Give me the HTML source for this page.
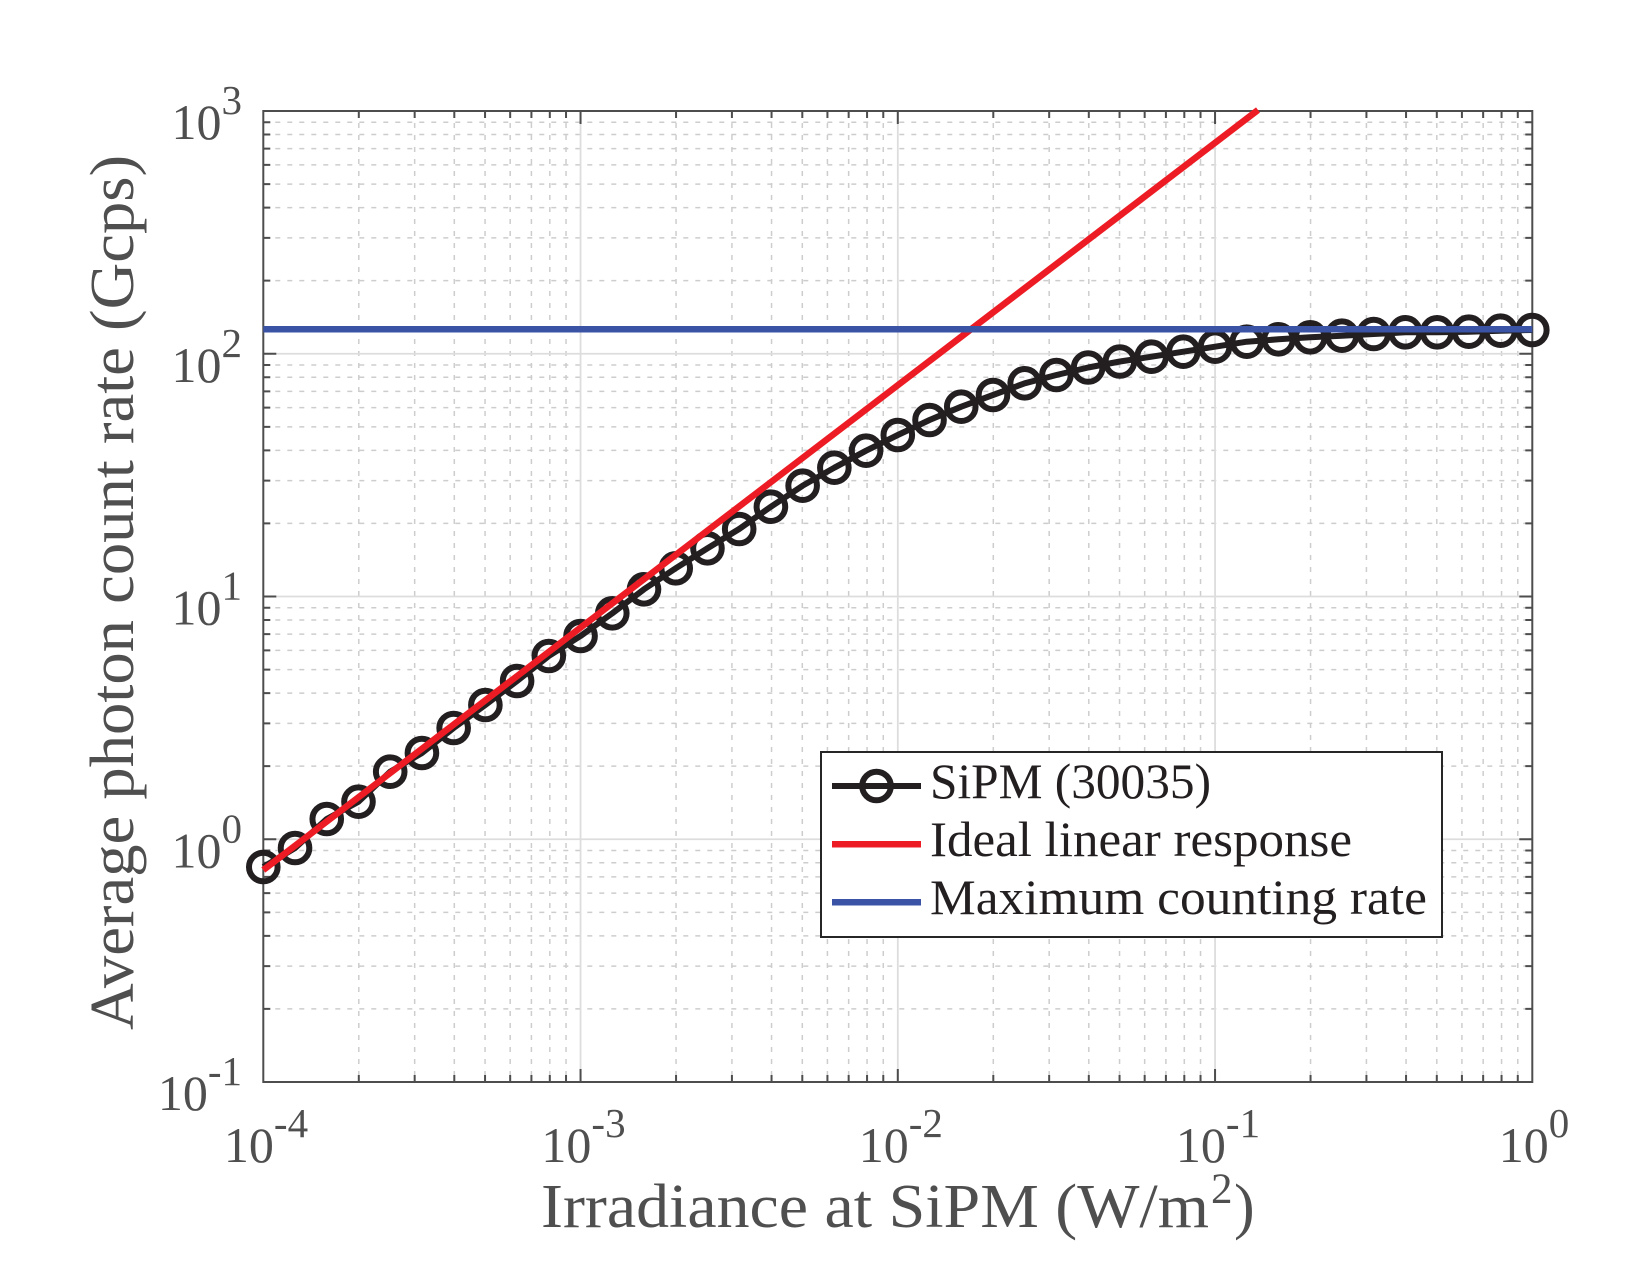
<!DOCTYPE html>
<html>
<head>
<meta charset="utf-8">
<style>
html,body{margin:0;padding:0;background:#ffffff;}
body{width:1626px;height:1277px;overflow:hidden;}
svg{display:block;}
text{font-family:"Liberation Serif","DejaVu Serif",serif;}
</style>
</head>
<body>
<svg width="1626" height="1277" viewBox="0 0 1626 1277" xmlns="http://www.w3.org/2000/svg">
<defs>
<marker id="mk" markerUnits="userSpaceOnUse" markerWidth="40" markerHeight="40" refX="20" refY="20" overflow="visible">
<circle cx="20" cy="20" r="14.3" fill="none" stroke="#231f20" stroke-width="6"/>
</marker>
</defs>
<rect x="0" y="0" width="1626" height="1277" fill="#ffffff"/>
<path fill="none" stroke="#cdcdcd" stroke-width="1.5" stroke-dasharray="5 7" d="M358.8 111V1082M414.67 111V1082M454.3 111V1082M485.05 111V1082M510.17 111V1082M531.41 111V1082M549.81 111V1082M566.03 111V1082M676.05 111V1082M731.92 111V1082M771.55 111V1082M802.3 111V1082M827.42 111V1082M848.66 111V1082M867.06 111V1082M883.28 111V1082M993.3 111V1082M1049.17 111V1082M1088.8 111V1082M1119.55 111V1082M1144.67 111V1082M1165.91 111V1082M1184.31 111V1082M1200.53 111V1082M1310.55 111V1082M1366.42 111V1082M1406.05 111V1082M1436.8 111V1082M1461.92 111V1082M1483.16 111V1082M1501.56 111V1082M1517.78 111V1082"/>
<path fill="none" stroke="#cdcdcd" stroke-width="1.5" stroke-dasharray="5 7" d="M263.3 1008.92H1532.3M263.3 966.18H1532.3M263.3 935.85H1532.3M263.3 912.33H1532.3M263.3 893.1H1532.3M263.3 876.85H1532.3M263.3 862.77H1532.3M263.3 850.52H1532.3M263.3 766.17H1532.3M263.3 723.43H1532.3M263.3 693.1H1532.3M263.3 669.58H1532.3M263.3 650.35H1532.3M263.3 634.1H1532.3M263.3 620.02H1532.3M263.3 607.77H1532.3M263.3 523.42H1532.3M263.3 480.68H1532.3M263.3 450.35H1532.3M263.3 426.83H1532.3M263.3 407.6H1532.3M263.3 391.35H1532.3M263.3 377.27H1532.3M263.3 365.02H1532.3M263.3 280.67H1532.3M263.3 237.93H1532.3M263.3 207.6H1532.3M263.3 184.08H1532.3M263.3 164.85H1532.3M263.3 148.6H1532.3M263.3 134.52H1532.3M263.3 122.27H1532.3"/>
<path fill="none" stroke="#dddddd" stroke-width="1.8" d="M580.55 111V1082M897.8 111V1082M1215.05 111V1082M263.3 839.25H1532.3M263.3 596.5H1532.3M263.3 353.75H1532.3"/>
<path fill="none" stroke="#4d4d4d" stroke-width="2" d="M580.55 1082v-13M897.8 1082v-13M1215.05 1082v-13M580.55 111v13M897.8 111v13M1215.05 111v13M263.3 839.25h13M263.3 596.5h13M263.3 353.75h13M1532.3 839.25h-13M1532.3 596.5h-13M1532.3 353.75h-13"/>
<path fill="none" stroke="#4d4d4d" stroke-width="2" d="M358.8 1082v-7M414.67 1082v-7M454.3 1082v-7M485.05 1082v-7M510.17 1082v-7M531.41 1082v-7M549.81 1082v-7M566.03 1082v-7M676.05 1082v-7M731.92 1082v-7M771.55 1082v-7M802.3 1082v-7M827.42 1082v-7M848.66 1082v-7M867.06 1082v-7M883.28 1082v-7M993.3 1082v-7M1049.17 1082v-7M1088.8 1082v-7M1119.55 1082v-7M1144.67 1082v-7M1165.91 1082v-7M1184.31 1082v-7M1200.53 1082v-7M1310.55 1082v-7M1366.42 1082v-7M1406.05 1082v-7M1436.8 1082v-7M1461.92 1082v-7M1483.16 1082v-7M1501.56 1082v-7M1517.78 1082v-7"/>
<path fill="none" stroke="#4d4d4d" stroke-width="2" d="M358.8 111v7M414.67 111v7M454.3 111v7M485.05 111v7M510.17 111v7M531.41 111v7M549.81 111v7M566.03 111v7M676.05 111v7M731.92 111v7M771.55 111v7M802.3 111v7M827.42 111v7M848.66 111v7M867.06 111v7M883.28 111v7M993.3 111v7M1049.17 111v7M1088.8 111v7M1119.55 111v7M1144.67 111v7M1165.91 111v7M1184.31 111v7M1200.53 111v7M1310.55 111v7M1366.42 111v7M1406.05 111v7M1436.8 111v7M1461.92 111v7M1483.16 111v7M1501.56 111v7M1517.78 111v7"/>
<path fill="none" stroke="#4d4d4d" stroke-width="2" d="M263.3 1008.92h7M263.3 966.18h7M263.3 935.85h7M263.3 912.33h7M263.3 893.1h7M263.3 876.85h7M263.3 862.77h7M263.3 850.52h7M263.3 766.17h7M263.3 723.43h7M263.3 693.1h7M263.3 669.58h7M263.3 650.35h7M263.3 634.1h7M263.3 620.02h7M263.3 607.77h7M263.3 523.42h7M263.3 480.68h7M263.3 450.35h7M263.3 426.83h7M263.3 407.6h7M263.3 391.35h7M263.3 377.27h7M263.3 365.02h7M263.3 280.67h7M263.3 237.93h7M263.3 207.6h7M263.3 184.08h7M263.3 164.85h7M263.3 148.6h7M263.3 134.52h7M263.3 122.27h7"/>
<path fill="none" stroke="#4d4d4d" stroke-width="2" d="M1532.3 1008.92h-7M1532.3 966.18h-7M1532.3 935.85h-7M1532.3 912.33h-7M1532.3 893.1h-7M1532.3 876.85h-7M1532.3 862.77h-7M1532.3 850.52h-7M1532.3 766.17h-7M1532.3 723.43h-7M1532.3 693.1h-7M1532.3 669.58h-7M1532.3 650.35h-7M1532.3 634.1h-7M1532.3 620.02h-7M1532.3 607.77h-7M1532.3 523.42h-7M1532.3 480.68h-7M1532.3 450.35h-7M1532.3 426.83h-7M1532.3 407.6h-7M1532.3 391.35h-7M1532.3 377.27h-7M1532.3 365.02h-7M1532.3 280.67h-7M1532.3 237.93h-7M1532.3 207.6h-7M1532.3 184.08h-7M1532.3 164.85h-7M1532.3 148.6h-7M1532.3 134.52h-7M1532.3 122.27h-7"/>
<rect x="263.3" y="111" width="1269" height="971" fill="none" stroke="#4d4d4d" stroke-width="2"/>
<polyline fill="none" stroke="#231f20" stroke-width="6" stroke-linejoin="round" marker-start="url(#mk)" marker-mid="url(#mk)" marker-end="url(#mk)" points="263.3,867 295.03,848 326.75,819 358.48,801.7 390.2,771.7 421.93,753 453.65,728 485.38,705 517.1,681 548.83,656 580.55,636 612.28,613.3 644,589.3 675.73,568.3 707.45,548.3 739.18,529 770.9,506.7 802.63,485.7 834.35,467.7 866.08,450.7 897.8,435 929.53,420 961.25,406.7 992.98,395 1024.7,383.3 1056.43,375 1088.15,367.5 1119.88,361.5 1151.6,356.7 1183.33,351.7 1215.05,346.7 1246.78,341.7 1278.5,339.3 1310.23,337.3 1341.95,335.7 1373.68,334 1405.4,332.3 1437.13,332.3 1468.85,331.7 1500.58,330.7 1532.3,330"/>
<line x1="263.3" y1="870" x2="1258" y2="110" stroke="#ED1C24" stroke-width="6.5"/>
<line x1="263.3" y1="329.3" x2="1532.3" y2="329.3" stroke="#3A53A4" stroke-width="6.5"/>
<g fill="#4f4f4f" font-size="50" text-anchor="end">
<text x="242" y="1110">10<tspan dy="-25" font-size="41">-1</tspan></text>
<text x="242" y="867.25">10<tspan dy="-25" font-size="41">0</tspan></text>
<text x="242" y="624.5">10<tspan dy="-25" font-size="41">1</tspan></text>
<text x="242" y="381.75">10<tspan dy="-25" font-size="41">2</tspan></text>
<text x="242" y="139">10<tspan dy="-25" font-size="41">3</tspan></text>
</g>
<g fill="#4f4f4f" font-size="50" text-anchor="middle">
<text x="266" y="1162">10<tspan dy="-25" font-size="41">-4</tspan></text>
<text x="583.5" y="1162">10<tspan dy="-25" font-size="41">-3</tspan></text>
<text x="900.8" y="1162">10<tspan dy="-25" font-size="41">-2</tspan></text>
<text x="1218" y="1162">10<tspan dy="-25" font-size="41">-1</tspan></text>
<text x="1534" y="1162">10<tspan dy="-25" font-size="41">0</tspan></text>
</g>
<g fill="#4f4f4f">
<text x="541" y="1227" font-size="62" textLength="668" lengthAdjust="spacingAndGlyphs">Irradiance at SiPM (W/m</text>
<text x="1211" y="1203" font-size="43">2</text>
<text x="1234" y="1227" font-size="62">)</text>
<text transform="translate(133,592.5) rotate(-90)" x="0" y="0" font-size="62" text-anchor="middle" textLength="875" lengthAdjust="spacingAndGlyphs">Average photon count rate (Gcps)</text>
</g>
<rect x="821" y="752" width="621" height="185" fill="#ffffff" stroke="#262626" stroke-width="2"/>
<line x1="832" y1="786" x2="921" y2="786" stroke="#231f20" stroke-width="6"/>
<circle cx="876.5" cy="786" r="14.3" fill="none" stroke="#231f20" stroke-width="6"/>
<line x1="832" y1="844.3" x2="921" y2="844.3" stroke="#ED1C24" stroke-width="6.5"/>
<line x1="832" y1="902.3" x2="921" y2="902.3" stroke="#3A53A4" stroke-width="6.5"/>
<g fill="#231f20" font-size="50">
<text x="930" y="798" textLength="281" lengthAdjust="spacingAndGlyphs">SiPM (30035)</text>
<text x="930" y="856" textLength="422" lengthAdjust="spacingAndGlyphs">Ideal linear response</text>
<text x="930" y="914" textLength="497" lengthAdjust="spacingAndGlyphs">Maximum counting rate</text>
</g>
</svg>
</body>
</html>
